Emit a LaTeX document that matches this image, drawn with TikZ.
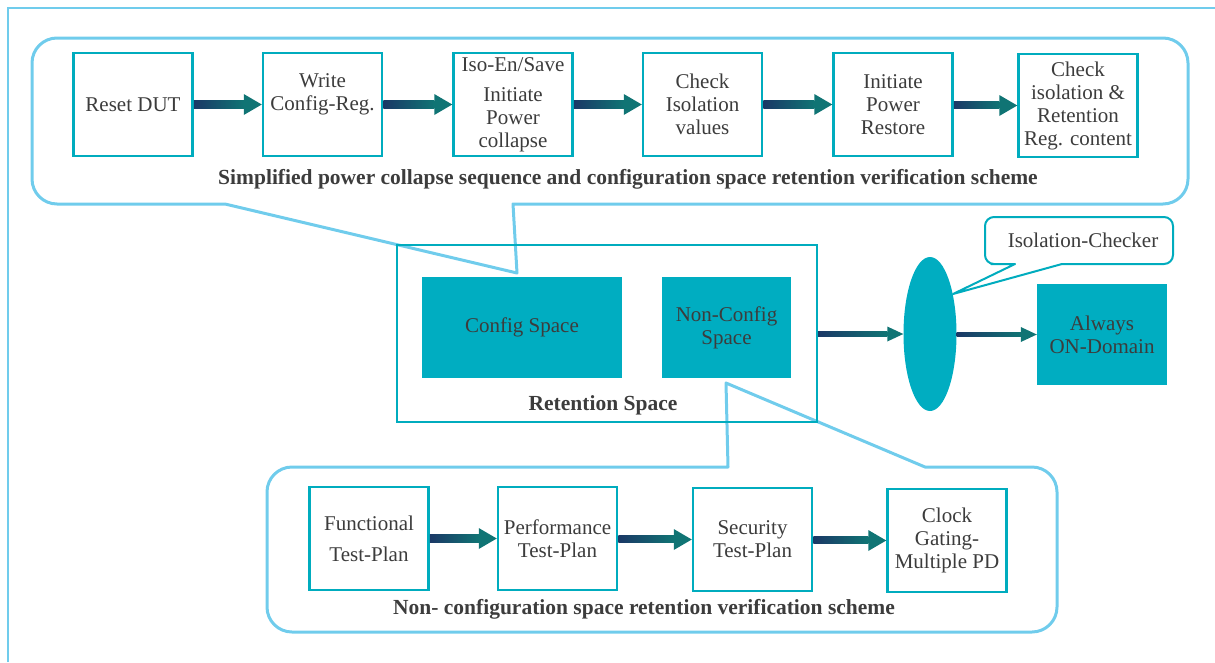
\documentclass[tikz,border=0pt]{standalone}
\usepackage{fontspec}
\setmainfont{Liberation Serif}
\usetikzlibrary{calc,shapes.geometric}

\definecolor{framec}{RGB}{112,204,236}
\definecolor{boxline}{RGB}{0,172,190}
\definecolor{tealfill}{RGB}{0,173,193}
\definecolor{arrnavy}{RGB}{27,56,102}
\definecolor{arrteal}{RGB}{16,116,116}
\definecolor{txtc}{RGB}{60,60,60}

% thick shaded arrow between two nodes:
% #1 from, #2 to, #3 shaft half-width, #4 head half-width, #5 head length
\newcommand\flowarrow[5]{%
  \shade[left color=arrnavy, right color=arrteal]
    ($(#1.east)+(0,#3)$) rectangle ($(#2.west)+(-#5,-#3)$);
  \fill[arrteal] ($(#2.west)+(-#5,#4)$) -- (#2.west) -- ($(#2.west)+(-#5,-#4)$) -- cycle;}

\begin{document}
\begin{tikzpicture}[x=1pt,y=-1pt,
  every node/.append style={text=txtc, font=\fontsize{21}{23}\selectfont},
  frameline/.style={draw=framec, line width=2pt},
  callout/.style={draw=framec, line width=3pt, line join=round},
  stepbox/.style={draw=boxline, line width=2.5pt, fill=white, minimum width=119pt,
    minimum height=103pt, inner sep=1pt, align=center},
  spacebox/.style={fill=tealfill, inner sep=1pt, align=center},
  caption/.style={font=\fontsize{21.5}{23}\selectfont\bfseries},
]
\useasboundingbox (0,0) rectangle (1215,662);

% outer frame
\draw[frameline] (8,662) -- (8,8) -- (1215,8);

% upper callout: power collapse sequence
\draw[callout] (225,204) -- (517,273) -- (513,204) -- (1100,204)
  [rounded corners=25pt] -- (1188,204) -- (1188,38) -- (32,38) -- (32,204)
  -- (150,204) [sharp corners] -- cycle;

% lower callout: non-configuration space plans
\draw[callout] (728,467) -- (726,383) -- (925,467) -- (1000,467)
  [rounded corners=25pt] -- (1057,467) -- (1057,632) -- (267,632) -- (267,467)
  -- (600,467) [sharp corners] -- cycle;

% upper sequence
\node[stepbox] (b1) at (133,104.5) {Reset DUT};
\node[stepbox] (b2) at (322.5,104.5) {};
\node[align=center] (b2t) at (322.5,94) {Write\\Config-Reg.};
\node[stepbox] (b3) at (513,104.5) {Iso-En/Save\\[7pt]Initiate\\Power\\collapse};
\node[stepbox] (b4) at (702.5,104.5) {Check\\Isolation\\values};
\node[stepbox] (b5) at (893,104.5) {Initiate\\Power\\Restore};
\node[stepbox] (b6) at (1078,105.5) {Check\\isolation \&\\Retention\\Reg. content};
\node[caption] (capTop) at (628,179) {Simplified power collapse sequence and configuration space retention verification scheme};

\flowarrow{b1}{b2}{4}{10.5}{18}
\flowarrow{b2}{b3}{4}{10.5}{18}
\flowarrow{b3}{b4}{4}{10.5}{18}
\flowarrow{b4}{b5}{4}{10.5}{18}
\flowarrow{b5}{b6}{4}{10.5}{18}

% retention space
\node[draw=boxline, line width=2pt, minimum width=420pt, minimum height=177pt] (ret) at (607,333.5) {};
\node[spacebox, minimum width=200pt, minimum height=101pt] (cfg) at (522,327.5) {Config Space};
\node[spacebox, minimum width=129pt, minimum height=101pt] (ncfg) at (726.5,327.5) {Non-Config\\Space};
\node[caption] (capRet) at (603,405) {Retention Space};

% isolation checker and always-on domain
\node[ellipse, fill=tealfill, minimum width=53pt, minimum height=154pt, inner sep=0pt] (iso) at (930,334) {};
\node[spacebox, minimum width=130pt, minimum height=101pt] (aon) at (1102,334.5) {Always\\ON-Domain};
\flowarrow{ret}{iso}{2.5}{7.5}{16}
\flowarrow{iso}{aon}{2.5}{7.5}{16}

\draw[draw=boxline, line width=2pt, fill=white, line join=round]
  (1015,264) -- (953,294) -- (1062,264) -- (1120,264)
  [rounded corners=9pt] -- (1173,264) -- (1173,217) -- (985,217) -- (985,264)
  -- (1000,264) [sharp corners] -- cycle;
\node (isoLbl) at (1083,240) {Isolation-Checker};

% lower sequence
\node[stepbox] (p1) at (369,538.5) {Functional\\[8pt]Test-Plan};
\node[stepbox] (p2) at (557.5,538.5) {Performance\\Test-Plan};
\node[stepbox] (p3) at (752.5,539.5) {Security\\Test-Plan};
\node[stepbox] (p4) at (947,540.5) {Clock\\Gating-\\Multiple PD};
\node[caption] (capBot) at (644,609) {Non- configuration space retention verification scheme};

\flowarrow{p1}{p2}{4}{10.5}{18}
\flowarrow{p2}{p3}{4}{10.5}{18}
\flowarrow{p3}{p4}{4}{10.5}{18}
\end{tikzpicture}
\end{document}
